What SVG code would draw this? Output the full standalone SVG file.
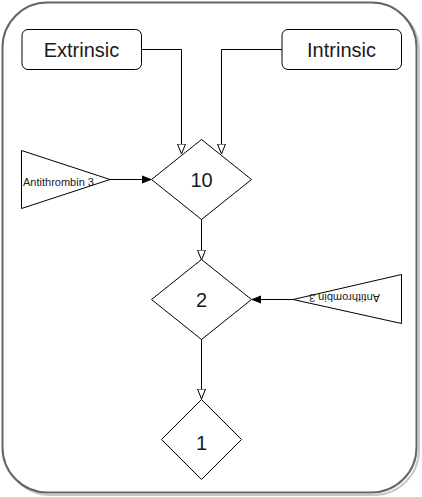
<svg xmlns="http://www.w3.org/2000/svg" width="422" height="497" viewBox="0 0 422 497">
  <style>
    .box { fill: #fff; stroke: #000; stroke-width: 1; }
    .lbl { font-family: "Liberation Sans", Arial, sans-serif; font-size: 20px; fill: #1a1a1a; text-anchor: middle; }
    .small { font-family: "Liberation Sans", Arial, sans-serif; font-size: 11px; fill: #1a1a1a; }
    .edge { fill: none; stroke: #000; stroke-width: 1; }
  </style>
  <defs>
    <marker id="open" viewBox="0 0 10 10" refX="10" refY="5" markerWidth="10" markerHeight="10" markerUnits="userSpaceOnUse" orient="auto">
      <path d="M0,1 L10,5 L0,9 Z" fill="#fff" stroke="#000" stroke-width="1"/>
    </marker>
    <marker id="block" viewBox="0 0 10 10" refX="10" refY="5" markerWidth="9" markerHeight="9" markerUnits="userSpaceOnUse" orient="auto">
      <path d="M0,1 L10,5 L0,9 Z" fill="#000" stroke="#000" stroke-width="1"/>
    </marker>
  </defs>
  <rect width="422" height="497" fill="#fff"/>
  <g id="container">
    <rect x="5" y="5" width="414" height="490" rx="45" ry="45" fill="none" stroke="#c8c8c8" stroke-width="2"/>
    <rect x="2.5" y="2.5" width="414" height="490" rx="45" ry="45" fill="#fff" stroke="#666" stroke-width="2"/>
  </g>
  <g id="connectors">
    <path class="edge" d="M141.5,49.5 H181.5 V154" marker-end="url(#open)"/>
    <path class="edge" d="M282,49.5 H221.5 V154" marker-end="url(#open)"/>
    <path class="edge" d="M110,179.5 H151" marker-end="url(#block)"/>
    <path class="edge" d="M201.5,219 V260" marker-end="url(#open)"/>
    <path class="edge" d="M293,299.5 H252" marker-end="url(#block)"/>
    <path class="edge" d="M201.5,339 V399" marker-end="url(#open)"/>
  </g>
  <g id="extrinsic">
    <rect class="box" x="22" y="29.5" width="119.5" height="40" rx="6" ry="6"/>
    <text class="lbl" x="81.5" y="56.5">Extrinsic</text>
  </g>
  <g id="intrinsic">
    <rect class="box" x="282" y="29.5" width="119.5" height="40" rx="6" ry="6"/>
    <text class="lbl" x="341.5" y="56.5">Intrinsic</text>
  </g>
  <g id="factor10">
    <polygon class="box" points="201.5,139.5 251.5,179.5 201.5,219.5 151.5,179.5"/>
    <text class="lbl" x="201.5" y="186.5">10</text>
  </g>
  <g id="factor2">
    <polygon class="box" points="201.5,259.5 251.5,299.5 201.5,339.5 151.5,299.5"/>
    <text class="lbl" x="201.5" y="306.5">2</text>
  </g>
  <g id="factor1">
    <polygon class="box" points="201.5,399.5 241.5,439.5 201.5,479.5 161.5,439.5"/>
    <text class="lbl" x="201.5" y="450">1</text>
  </g>
  <g id="antithrombin-left">
    <polygon class="box" points="21.5,150.5 110,179.5 21.5,208.5"/>
    <text class="small" x="23" y="186">Antithrombin 3</text>
  </g>
  <g id="antithrombin-right">
    <polygon class="box" points="401.5,274.5 293,299.5 401.5,323.5"/>
    <text class="small" x="380" y="294" transform="rotate(180 380 294)">Antithrombin 3</text>
  </g>
</svg>
